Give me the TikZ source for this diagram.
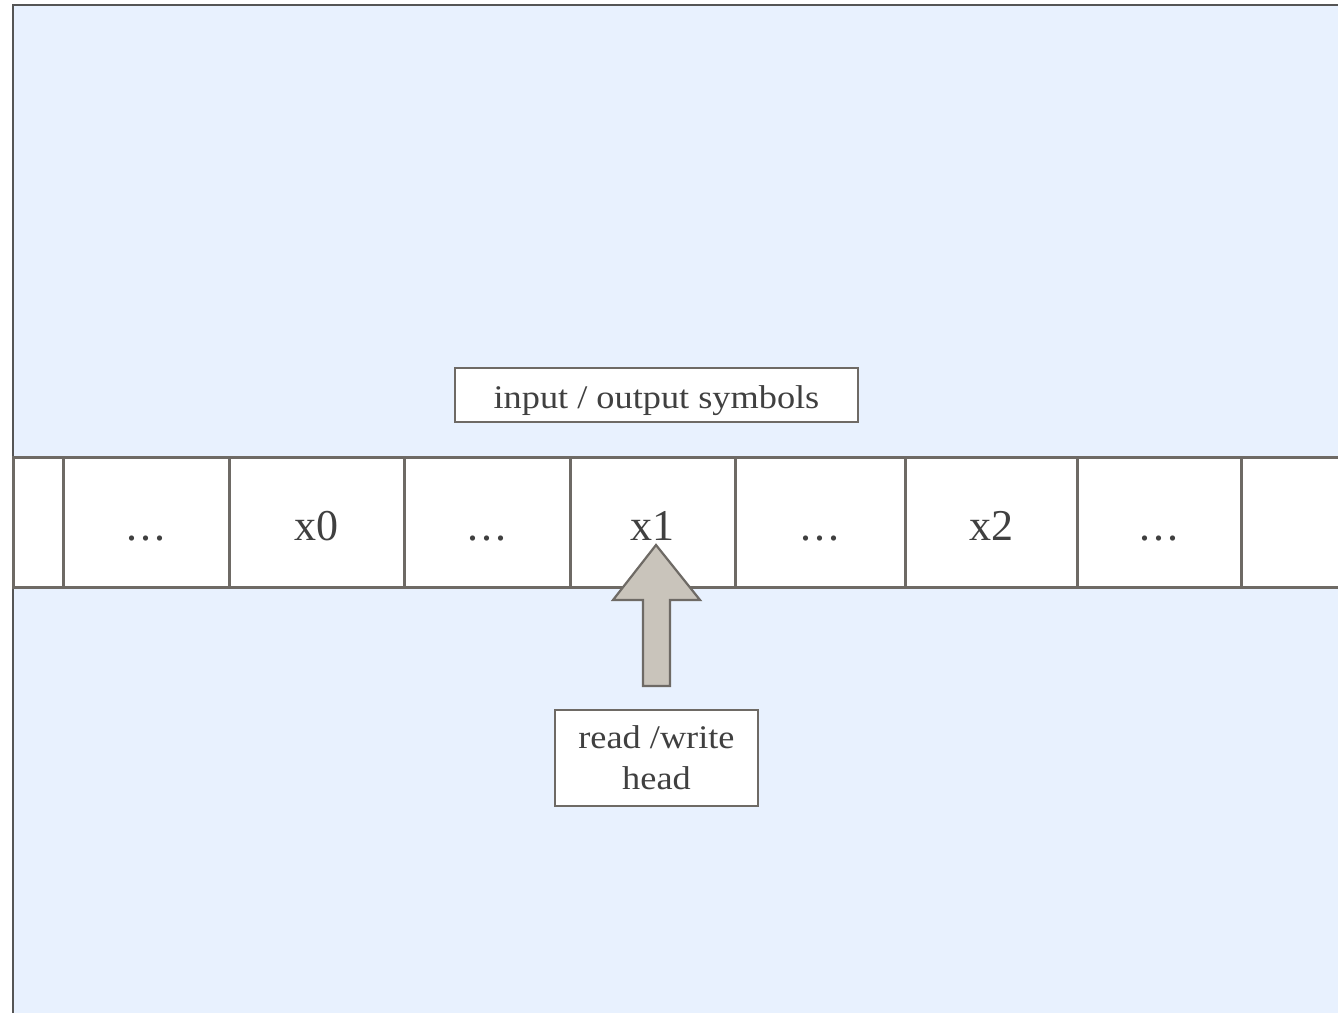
\documentclass[tikz,border=0pt]{standalone}
\usepackage{fontspec}
\setmainfont{Liberation Serif}
\definecolor{bgblue}{HTML}{E8F1FE}
\definecolor{edgegray}{HTML}{6E6A65}
\definecolor{framegray}{HTML}{555555}
\definecolor{textgray}{HTML}{404040}
\definecolor{headfill}{HTML}{C9C4BB}
\tikzset{
  cellbox/.style={draw=edgegray, line width=3pt, fill=white, inner sep=0pt,
    minimum height=130pt, text height=40pt, text depth=4pt,
    text=textgray, font=\fontsize{44}{50}\selectfont},
  labelbox/.style={draw=edgegray, line width=2.4pt, fill=white, text=textgray,
    inner sep=0pt, align=center},
  headarrow/.style={draw=edgegray, line width=2.2pt, fill=headfill, line join=miter}
}
% one tape cell between x positions #2 and #3
\newcommand{\tapecell}[4]{%
  \node[cellbox, minimum width={#3pt-#2pt}] (#1) at ({(#2+#3)/2},522) {#4};}
% three spaced dots on the baseline
\newcommand{\celldots}{.\kern3pt.\kern3pt.}
\begin{document}
\begin{tikzpicture}[x=1pt, y=-1pt]
  \useasboundingbox (0,0) rectangle (1338,1012);
  % backdrop
  \fill[bgblue] (13,5) rectangle (1345,1020);
  \draw[framegray, line width=1.8pt] (13,1020) -- (13,5) -- (1345,5);

  % tape
  \tapecell{c0}{13}{63}{}
  \tapecell{c1}{63}{229}{\celldots}
  \tapecell{c2}{229}{404}{x0}
  \tapecell{c3}{404}{570}{\celldots}
  \tapecell{c4}{570}{735}{x1}
  \tapecell{c5}{735}{905}{\celldots}
  \tapecell{c6}{905}{1077}{x2}
  \tapecell{c7}{1077}{1241}{\celldots}
  \tapecell{c8}{1241}{1345}{}

  % labels
  \node[labelbox, minimum width=403pt, minimum height=54pt,
        text height=28pt, text depth=2pt,
        font=\fontsize{33}{38}\selectfont\addfontfeature{FakeStretch=1.1}]
        (sym) at (656.5,395) {input / output symbols};
  \node[labelbox, minimum width=203pt, minimum height=96pt,
        font=\fontsize{33}{41}\selectfont\addfontfeature{FakeStretch=1.1}]
        (rw) at (656.5,758) {read /write\\head};

  % read/write head arrow
  \draw[headarrow] (656,545) -- (700,600) -- (670,600) -- (670,686)
        -- (643,686) -- (643,600) -- (613,600) -- cycle;
\end{tikzpicture}
\end{document}
